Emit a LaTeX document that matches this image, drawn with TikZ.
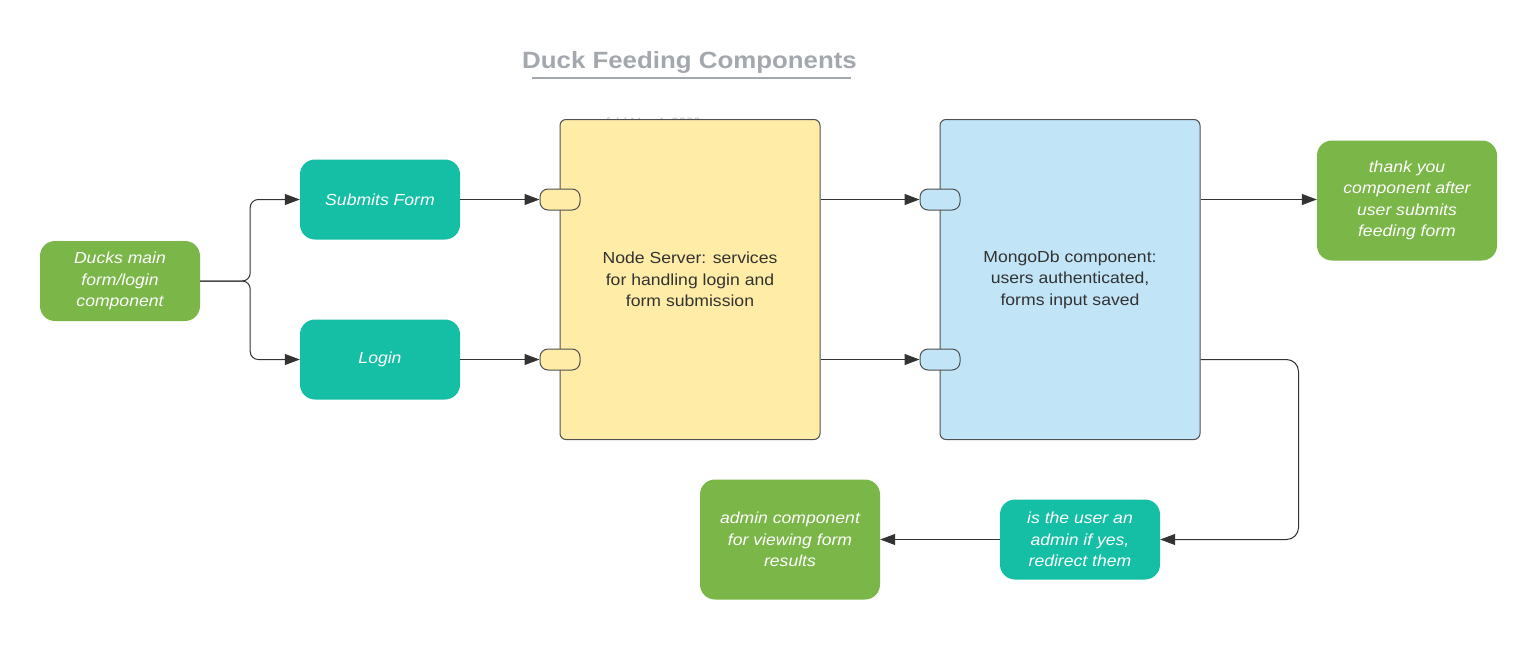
\documentclass[tikz,border=0pt]{standalone}
\usepackage{fontspec}
\setmainfont{Liberation Sans}[FakeStretch=1.1]
\usetikzlibrary{arrows.meta}
\definecolor{lgreen}{RGB}{122,182,72}
\definecolor{lteal}{RGB}{20,191,165}
\definecolor{lyellow}{RGB}{255,236,166}
\definecolor{lblue}{RGB}{193,228,247}
\definecolor{ttlgray}{RGB}{163,167,174}
\definecolor{linegray}{RGB}{51,51,51}
\definecolor{boxborder}{RGB}{80,80,80}
\tikzset{
  comp/.style={rectangle, rounded corners=15, minimum width=160, minimum height=80,
    text=white, align=center, font=\fontsize{16}{21.5}\selectfont\itshape, inner sep=0},
  greenbox/.style={comp, fill=lgreen},
  tealbox/.style={comp, fill=lteal},
  bigbox/.style={rectangle, rounded corners=6, minimum width=260, minimum height=320,
    draw=boxborder, line width=1, text=linegray, align=center,
    font=\fontsize{16}{21.5}\selectfont, inner sep=0},
  port/.style={rectangle, rounded corners=8, minimum width=40, minimum height=21,
    draw=boxborder, line width=1, inner sep=0},
  conn/.style={draw=linegray, line width=1, -{Triangle[length=15, width=11]}},
}
\begin{document}
\begin{tikzpicture}[x=1pt,y=-1pt]
\useasboundingbox (0,0) rectangle (1540,667);
\fill[white] (0,0) rectangle (1540,667);
% title
\node[anchor=base, text=ttlgray, font=\fontsize{23.5}{26}\selectfont\bfseries, inner sep=0] (title) at (689.5,68) {Duck Feeding Components};
\draw[ttlgray, line width=2] (532,78) -- (851,78);
\begin{scope}[yshift=0.5pt]
% faint hidden label
\node[anchor=base west, text=ttlgray!70, font=\fontsize{12}{14}\selectfont, inner sep=0] (date) at (606,127) {fcbl Mar 4, 2022};
% nodes
\node[greenbox] (ducks) at (120,281.5) {Ducks main\\form/login\\component};
\node[tealbox] (submits) at (380,200) {Submits Form};
\node[tealbox] (login) at (380,360) {Login};
\node[bigbox, fill=lyellow] (server) at (690,280) {Node Server: services\\for handling login and\\form submission};
\node[port, fill=lyellow] (p1) at (560,200) {};
\node[port, fill=lyellow] (p2) at (560,360) {};
\node[bigbox, fill=lblue] (mongo) at (1070,280) {MongoDb component:\\users authenticated,\\forms input saved};
\node[port, fill=lblue] (q1) at (940,200) {};
\node[port, fill=lblue] (q2) at (940,360) {};
\node[greenbox, minimum width=180, minimum height=120] (thanks) at (1407,201) {thank you\\component after\\user submits\\feeding form};
\node[greenbox, minimum width=180, minimum height=120] (admin) at (790,540) {admin component\\for viewing form\\results};
\node[tealbox] (isadmin) at (1080,540) {is the user an\\admin if yes,\\redirect them};
% connectors
\draw[conn, rounded corners=8] (ducks.east) -- ++(50,0) |- (submits.west);
\draw[conn, rounded corners=8] (ducks.east) -- ++(50,0) |- (login.west);
\draw[conn] (submits.east) -- (p1.west);
\draw[conn] (login.east) -- (p2.west);
\draw[conn] (server.east |- q1) -- (q1.west);
\draw[conn] (server.east |- q2) -- (q2.west);
\draw[conn] (mongo.east |- q1) -- (q1.west -| thanks.west);
\draw[conn, rounded corners=12] (mongo.east |- q2) -- ++(98,0) |- (isadmin.east);
\draw[conn] (isadmin.west) -- (admin.east);
\end{scope}
\end{tikzpicture}
\end{document}
